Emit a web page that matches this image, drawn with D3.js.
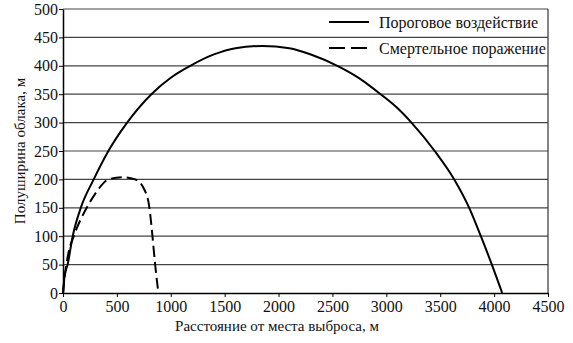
<!DOCTYPE html>
<html><head><meta charset="utf-8">
<script src="https://cdn.jsdelivr.net/npm/d3@7"></script>
<style>body{margin:0;background:#fff}svg{display:block}</style>
</head><body><svg id="c" width="573" height="343"></svg>
<script>
const xTicks=[0,500,1000,1500,2000,2500,3000,3500,4000,4500];
const yTicks=[0,50,100,150,200,250,300,350,400,450,500];
const seriesNames=["Пороговое воздействие","Смертельное поражение"];
const thresholdX=[0,15,43,90,165,285,421,595,820,1000,1181,1400,1600,1850,2100,2300,2545,2750,2947,3100,3233,3449,3630,3769,3877,3979,4075];
const thresholdY=[0,30,50,100,150,200,250,300,350,379,400,420,431,435,431,420,400,378,350,326,300,250,200,150,100,50,0];
const lethalX=[0,20,50,100,220,300,421,546,669,760,802,830,855,885];
const lethalY=[0,35,70,100,150,175,200,204,200,180,150,100,50,0];
const xTitle="Расстояние от места выброса, м";
const yTitle="Полуширина облака, м";

const FONT='"Liberation Serif","Times New Roman",serif';
const svg=d3.select("#c");
const L=63,R=548,T=9,B=293;
const x=d3.scaleLinear().domain([0,4500]).range([L,R]);
const y=d3.scaleLinear().domain([0,500]).range([B,T]);

svg.append("g").selectAll("line").data(yTicks.filter(d=>d>0)).join("line")
 .attr("x1",L).attr("x2",R).attr("y1",d=>y(d)).attr("y2",d=>y(d))
 .attr("stroke","#444").attr("stroke-width",1.2);
svg.append("line").attr("x1",R).attr("x2",R).attr("y1",T).attr("y2",B).attr("stroke","#333").attr("stroke-width",1.2);

const xa=svg.append("g").attr("transform",`translate(0,${B})`)
 .call(d3.axisBottom(x).tickValues(xTicks).tickFormat(d3.format("d")).tickSize(4).tickSizeOuter(0));
const ya=svg.append("g").attr("transform",`translate(${L},0)`)
 .call(d3.axisLeft(y).tickValues(yTicks).tickFormat(d3.format("d")).tickSize(4).tickSizeOuter(0));
[xa,ya].forEach(a=>{
 a.selectAll("path").attr("stroke","#000").attr("stroke-width",1.5);
 a.selectAll("line").attr("stroke","#000");
 a.selectAll("text").style("font-family",FONT).style("font-size","16px").attr("fill","#111");});
xa.selectAll("text").attr("y",6).attr("dy","0.8em");
ya.selectAll("text").attr("x",-5);

const line=d3.line().x(d=>x(d[0])).y(d=>y(d[1])).curve(d3.curveMonotoneX);
const s1=thresholdX.map((v,i)=>[v,thresholdY[i]]);
const s2=lethalX.map((v,i)=>[v,lethalY[i]]);
svg.append("path").attr("d",line(s1)).attr("fill","none").attr("stroke","#000").attr("stroke-width",2);
svg.append("path").attr("d",line(s2)).attr("fill","none").attr("stroke","#000").attr("stroke-width",2).attr("stroke-dasharray","11,5");

const lg=svg.append("g");
[[22,null],[48,"16,6"]].forEach((o,i)=>{
 const l=lg.append("line").attr("x1",329).attr("x2",369).attr("y1",o[0]).attr("y2",o[0]).attr("stroke","#000").attr("stroke-width",2);
 if(o[1]) l.attr("stroke-dasharray",o[1]);
 lg.append("text").attr("x",379).attr("y",o[0]).attr("dy","0.35em").style("font-family",FONT).style("font-size","16px").attr("fill","#111").text(seriesNames[i]);
});

svg.append("text").attr("x",277).attr("y",331).attr("text-anchor","middle").style("font-family",FONT).style("font-size","15px").attr("fill","#111").text(xTitle);
svg.append("text").attr("transform","translate(25,151) rotate(-90)").attr("text-anchor","middle").style("font-family",FONT).style("font-size","15px").attr("fill","#111").text(yTitle);
</script></body></html>
